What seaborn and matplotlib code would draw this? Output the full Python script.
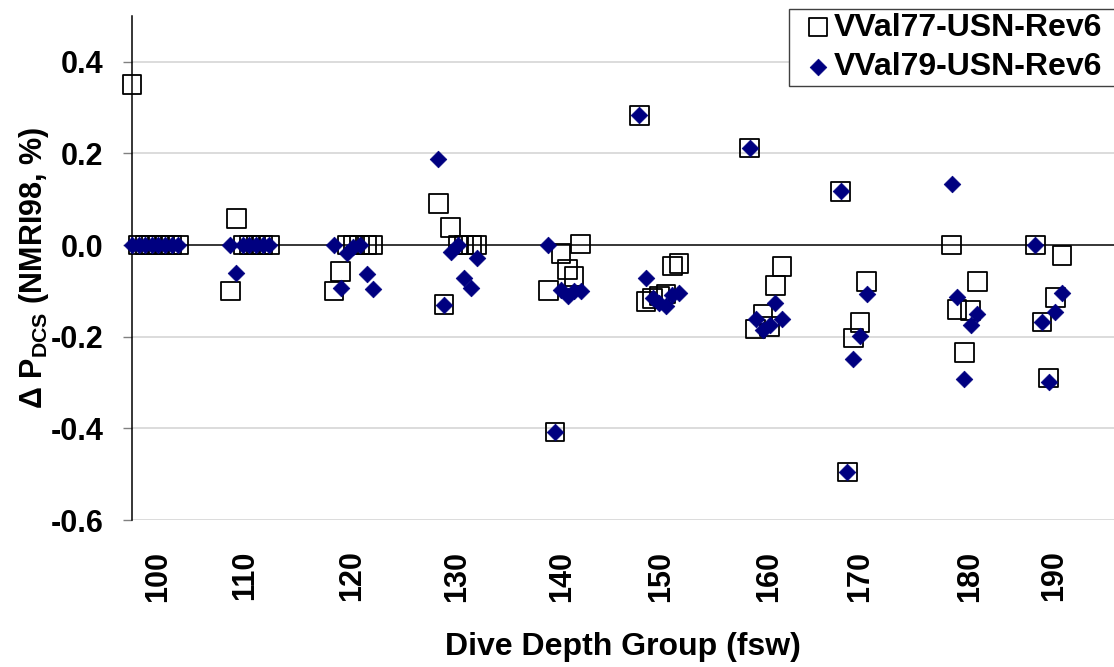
import matplotlib
matplotlib.use("Agg")
import matplotlib.pyplot as plt
import seaborn as sns
import numpy as np

# ---- data ----
depth_groups = ["100", "110", "120", "130", "140", "150", "160", "170", "180", "190"]
group_tick_pos = [3.9, 17.1, 33.3, 49.2, 65.2, 80.2, 96.5, 110.3, 127.0, 139.7]

# profile positions along the x axis (profile order)
x_100 = [0, 1, 2, 3, 4, 5, 6, 7]
x_110 = [14.9, 15.8, 16.8, 17.8, 18.8, 19.8, 20.8]
x_120 = [30.6, 31.6, 32.6, 33.5, 34.5, 35.6, 36.5]
x_130 = [46.4, 47.3, 48.3, 49.4, 50.3, 51.4, 52.3]
x_140 = [63.1, 64.1, 65.0, 66.0, 67.0, 68.0]
x_150 = [76.9, 77.9, 78.9, 79.9, 80.9, 81.9, 82.9]
x_160 = [93.6, 94.5, 95.6, 96.6, 97.5, 98.5]
x_170 = [107.4, 108.4, 109.3, 110.3, 111.3]
x_180 = [124.2, 125.0, 126.1, 127.1, 128.1]
x_190 = [136.9, 137.9, 138.9, 139.9, 140.9]

vval77_100 = [0.35, 0, 0, 0, 0, 0, 0, 0]
vval77_110 = [-0.100, 0.058, 0, 0, 0, 0, 0]
vval77_120 = [-0.100, -0.058, 0, 0, 0, 0, 0]
vval77_130 = [0.091, -0.130, 0.038, 0, 0, 0, 0]
vval77_140 = [-0.099, -0.408, -0.018, -0.053, -0.069, 0.002]
vval77_150 = [0.283, -0.123, -0.116, -0.111, -0.107, -0.046, -0.040]
vval77_160 = [0.212, -0.183, -0.152, -0.178, -0.088, -0.047]
vval77_170 = [0.117, -0.495, -0.203, -0.169, -0.080]
vval77_180 = [0, -0.141, -0.234, -0.143, -0.080]
vval77_190 = [0, -0.168, -0.290, -0.114, -0.023]

vval79_100 = [0, 0, 0, 0, 0, 0, 0, 0]
vval79_110 = [0, -0.060, 0, 0, 0, 0, 0]
vval79_120 = [0, -0.094, -0.017, -0.004, 0, -0.063, -0.096]
vval79_130 = [0.187, -0.130, -0.015, 0, -0.071, -0.094, -0.029]
vval79_140 = [0, -0.408, -0.098, -0.111, -0.101, -0.101]
vval79_150 = [0.283, -0.071, -0.116, -0.127, -0.132, -0.109, -0.104]
vval79_160 = [0.212, -0.162, -0.185, -0.174, -0.127, -0.162]
vval79_170 = [0.117, -0.495, -0.248, -0.198, -0.107]
vval79_180 = [0.134, -0.114, -0.293, -0.175, -0.150]
vval79_190 = [0, -0.168, -0.298, -0.145, -0.104]

series_names = ["VVal77-USN-Rev6", "VVal79-USN-Rev6"]
y_ticks = [-0.6, -0.4, -0.2, 0.0, 0.2, 0.4]

x_all = np.concatenate([x_100, x_110, x_120, x_130, x_140, x_150, x_160, x_170, x_180, x_190])
y77_all = np.concatenate([vval77_100, vval77_110, vval77_120, vval77_130, vval77_140,
                          vval77_150, vval77_160, vval77_170, vval77_180, vval77_190])
y79_all = np.concatenate([vval79_100, vval79_110, vval79_120, vval79_130, vval79_140,
                          vval79_150, vval79_160, vval79_170, vval79_180, vval79_190])

# ---- style ----
sns.set_theme(style="white")
plt.rcParams["font.family"] = ["Liberation Sans", "DejaVu Sans"]
plt.rcParams["font.weight"] = "bold"
plt.rcParams["text.color"] = "black"
plt.rcParams["axes.labelcolor"] = "black"
plt.rcParams["xtick.labelcolor"] = "black"
plt.rcParams["ytick.labelcolor"] = "black"
plt.rcParams["axes.unicode_minus"] = False
plt.rcParams["mathtext.fontset"] = "custom"
plt.rcParams["mathtext.bf"] = "Liberation Sans:bold"
plt.rcParams["mathtext.rm"] = "Liberation Sans:bold"

W, H = 1114, 667
fig = plt.figure(figsize=(W / 100, H / 100), dpi=100)
ax = fig.add_axes([132 / W, (H - 520) / H, 982 / W, 504 / H])

sns.scatterplot(x=x_all, y=y77_all, ax=ax, marker="s", s=180, color="black",
                facecolor="none", edgecolor="black", linewidth=1.3,
                label=series_names[0], clip_on=False, zorder=3)
sns.scatterplot(x=x_all, y=y79_all, ax=ax, marker="D", s=72, color="#000080",
                edgecolor="#000080", linewidth=0.5,
                label=series_names[1], clip_on=False, zorder=4)

ax.set_xlim(0, 148.8)
ax.set_ylim(-0.6, 0.5)
ax.set_yticks(y_ticks)
ax.set_yticklabels([f"{v:.1f}" for v in y_ticks], fontsize=22, fontweight="bold", color="black")
ax.set_xticks(group_tick_pos)
ax.set_xticklabels(depth_groups, rotation=90, fontsize=22, fontweight="bold", color="black")
ax.tick_params(axis="x", length=0, pad=22)
ax.tick_params(axis="y", length=6.5, width=1, color="#808080", pad=14, left=True)

ax.grid(False)
for v in y_ticks:
    if v != 0:
        ax.axhline(v, color="#d9d9d9", lw=1.3, zorder=0)
ax.axhline(0, color="black", lw=1.1, zorder=1)

for side in ["top", "right", "bottom"]:
    ax.spines[side].set_visible(False)
ax.spines["left"].set_color("black")
ax.spines["left"].set_linewidth(1.1)

ax.set_xlabel("Dive Depth Group (fsw)", fontsize=23, fontweight="bold", color="black")
ax.xaxis.set_label_coords(0.5, -0.222)
ax.set_ylabel(r"Δ P$_{\mathbf{DCS}}$ (NMRI98, %)", fontsize=22, fontweight="bold", color="black")
ax.yaxis.set_label_coords(-0.082, 0.5)

handles, labels = ax.get_legend_handles_labels()
leg = ax.legend(handles, labels, loc="upper left",
                bbox_to_anchor=(789 / W, 1 - 87 / H, (1125 - 789) / W, 78 / H),
                bbox_transform=fig.transFigure, mode="expand",
                borderaxespad=0, frameon=True, fancybox=False, framealpha=1,
                edgecolor="#404040", prop={"weight": "bold", "size": 23},
                handlelength=1.6, handletextpad=-0.3, labelspacing=0.31, borderpad=0.11)
leg.get_frame().set_linewidth(1.0)
for t in leg.get_texts():
    t.set_color("black")

fig.savefig("out.png", dpi=100)
